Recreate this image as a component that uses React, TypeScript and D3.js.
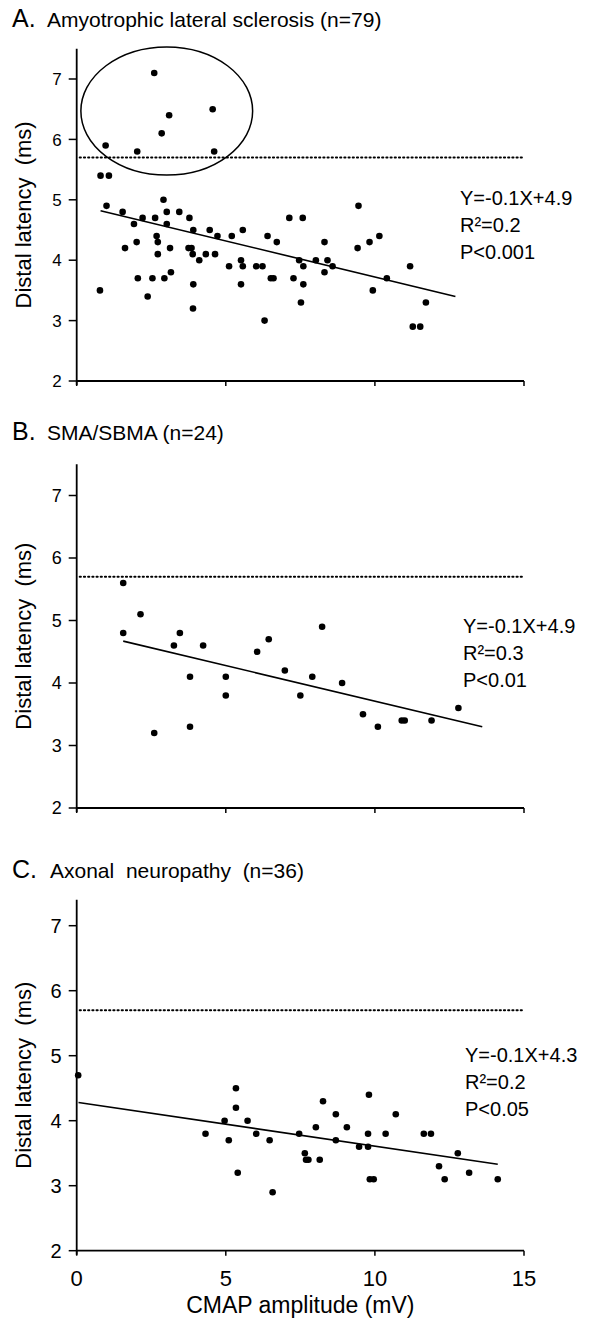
import React from "react";
import * as d3 from "d3";

// ---------- data ----------
const xTicks = [0, 5, 10, 15];
const yTicks = [2, 3, 4, 5, 6, 7];
const cutoff = 5.7;

const alsX = [2.6, 3.1, 4.56, 2.85, 0.97, 2.03, 4.61, 0.8, 1.08,
  1.0, 0.78, 1.54, 1.62, 1.92, 2.01, 2.05, 2.21, 2.38, 2.54, 2.63, 2.68, 2.72, 2.72, 2.91, 2.94, 3.02, 3.02, 3.13, 3.16,
  3.44, 3.78, 3.75, 3.85, 3.89, 3.91, 3.91, 4.11, 4.33, 4.46, 4.64, 4.72, 5.11, 5.2, 5.51, 5.57, 5.57, 5.51, 6.02, 6.23,
  6.4, 6.51, 6.6, 6.71, 7.13, 7.27, 7.46, 7.58, 7.6, 7.6, 8.02, 7.52, 8.31, 8.31, 8.41, 8.58, 9.42, 9.45, 9.82, 9.93,
  10.15, 10.4, 11.18, 11.71, 3.9, 6.3, 11.27, 11.52];
const alsY = [7.1, 6.4, 6.5, 6.1, 5.9, 5.8, 5.8, 5.4, 5.4,
  4.9, 3.5, 4.8, 4.2, 4.6, 4.3, 3.7, 4.7, 3.4, 3.7, 4.7, 4.4, 4.3, 4.1, 5.0, 3.7, 4.8, 4.6, 4.2, 3.8,
  4.8, 4.7, 4.2, 4.2, 4.1, 4.5, 3.6, 4.0, 4.1, 4.5, 4.1, 4.4, 3.9, 4.4, 4.0, 4.5, 3.9, 3.6, 3.9, 3.9,
  4.4, 3.7, 3.7, 4.3, 4.7, 3.7, 4.0, 4.7, 3.9, 3.6, 4.0, 3.3, 4.3, 3.8, 4.0, 3.9, 4.2, 4.9, 4.3, 3.5,
  4.4, 3.7, 3.9, 3.3, 3.2, 3.0, 2.9, 2.9];

const smaX = [1.56, 2.14, 1.56, 3.46, 3.26, 4.24, 6.05, 6.44, 8.23, 6.98,
  2.6, 3.8, 3.8, 5.0, 5.0, 7.5, 7.9, 8.9, 9.6, 10.1, 10.9, 11.0, 11.9, 12.8];
const smaY = [5.6, 5.1, 4.8, 4.8, 4.6, 4.6, 4.5, 4.7, 4.9, 4.2,
  3.2, 4.1, 3.3, 4.1, 3.8, 3.8, 4.1, 4.0, 3.5, 3.3, 3.4, 3.4, 3.4, 3.6];

const axX = [0.05, 4.32, 4.96, 5.1, 5.34, 5.4, 5.73, 6.02, 6.47, 6.57, 7.46, 7.65, 7.69, 7.77, 8.02, 8.15, 8.26, 8.69, 8.69,
  9.06, 9.47, 9.77, 9.77, 9.83, 9.96, 10.36, 10.7, 11.64, 11.88, 12.15, 12.34, 12.78, 13.16, 14.12, 5.34, 9.8];
const axY = [4.7, 3.8, 4.0, 3.7, 4.2, 3.2, 4.0, 3.8, 3.7, 2.9, 3.8, 3.5, 3.4, 3.4, 3.9, 3.4, 4.3, 4.1, 3.7,
  3.9, 3.6, 3.8, 3.6, 3.1, 3.1, 3.8, 4.1, 3.8, 3.8, 3.3, 3.1, 3.5, 3.2, 3.1, 4.5, 4.4];

// regression line end points
const alsFitX = [0.8, 12.7];
const alsFitY = [4.82, 3.4];
const smaFitX = [1.56, 13.6];
const smaFitY = [4.67, 3.3];
const axFitX = [0.06, 14.12];
const axFitY = [4.28, 3.33];

// ellipse around outliers (centre x, centre y, radius x, radius y in data units)
const alsEllipse = [3.02, 6.47, 2.88, 1.06];

const titles = ["Amyotrophic lateral sclerosis (n=79)", "SMA/SBMA (n=24)", "Axonal  neuropathy  (n=36)"];
const letters = ["A.", "B.", "C."];
const eqs = [
  ["Y=-0.1X+4.9", "R²=0.2", "P<0.001"],
  ["Y=-0.1X+4.9", "R²=0.3", "P<0.01"],
  ["Y=-0.1X+4.3", "R²=0.2", "P<0.05"],
];
const yTitle = "Distal latency  (ms)";
const xTitle = "CMAP amplitude (mV)";

// ---------- layout ----------
const W = 606, H = 1319;
const x0 = 76.7, x1 = 524;
const FONT = "'Liberation Sans', Arial, sans-serif";

const panels = [
  { xs: alsX, ys: alsY, fx: alsFitX, fy: alsFitY, yBot: 381, unit: 60.4, yTop: 7.5, titleY: 27, textX: 12, titleX: 47, eqX: 460, eqY: 205, tick: 17, ell: alsEllipse },
  { xs: smaX, ys: smaY, fx: smaFitX, fy: smaFitY, yBot: 808, unit: 62.5, yTop: 7.5, titleY: 440, textX: 12, titleX: 47, eqX: 463, eqY: 633, tick: 18, ell: null },
  { xs: axX, ys: axY, fx: axFitX, fy: axFitY, yBot: 1250.7, unit: 65, yTop: 7.4, titleY: 878, textX: 12, titleX: 50, eqX: 465, eqY: 1062, tick: 20, ell: null },
];

const x = d3.scaleLinear().domain([0, 15]).range([x0, x1]);

function Panel({ p, i }: { p: any; i: number }) {
  const y = d3.scaleLinear().domain([2, p.yTop]).range([p.yBot, p.yBot - (p.yTop - 2) * p.unit]);
  const line = d3.line<[number, number]>().x((d) => x(d[0])).y((d) => y(d[1]));
  const fitPts: [number, number][] = p.fx.map((v: number, k: number) => [v, p.fy[k]]);
  const yMid = y((2 + p.yTop) / 2);
  return (
    <g>
      <text x={p.textX} y={p.titleY} fontSize={25} fontFamily={FONT}>{letters[i]}</text>
      <text x={p.titleX} y={p.titleY} fontSize={21} fontFamily={FONT} style={{ whiteSpace: "pre" }}>{titles[i]}</text>
      {/* y axis */}
      <line x1={x0} x2={x0} y1={y(p.yTop)} y2={y(2) + 4} stroke="#000" strokeWidth={1.8} />
      {yTicks.map((t) => (
        <g key={t}>
          <line x1={x0 - 8} x2={x0} y1={y(t)} y2={y(t)} stroke="#000" strokeWidth={1.5} />
          <text x={x0 - 15} y={y(t)} dy="0.36em" textAnchor="end" fontSize={p.tick} fontFamily={FONT}>{t}</text>
        </g>
      ))}
      <text transform={`translate(31,${yMid}) rotate(-90)`} textAnchor="middle" fontSize={22} fontFamily={FONT} style={{ whiteSpace: "pre" }}>{yTitle}</text>
      {/* x axis */}
      <line x1={x0} x2={x1} y1={y(2)} y2={y(2)} stroke="#000" strokeWidth={1.8} />
      {xTicks.map((t) => (
        <line key={t} x1={x(t)} x2={x(t)} y1={y(2)} y2={y(2) + 5} stroke="#000" strokeWidth={1.5} />
      ))}
      {i === 2 && xTicks.map((t) => (
        <text key={"l" + t} x={x(t)} y={y(2) + 35} textAnchor="middle" fontSize={22} fontFamily={FONT}>{t}</text>
      ))}
      {i === 2 && (
        <text x={(x0 + x1) / 2} y={1313} textAnchor="middle" fontSize={23} fontFamily={FONT}>{xTitle}</text>
      )}
      {/* cutoff */}
      <line x1={x(0) + 3} x2={x(15)} y1={y(cutoff)} y2={y(cutoff)} stroke="#000" strokeWidth={2} strokeDasharray="1.2 3" strokeLinecap="round" />
      {/* ellipse */}
      {p.ell && (
        <ellipse cx={x(p.ell[0])} cy={y(p.ell[1])} rx={x(p.ell[2]) - x(0)} ry={y(2) - y(2 + p.ell[3])} fill="none" stroke="#000" strokeWidth={1.5} />
      )}
      {/* fit */}
      <path d={line(fitPts) || ""} stroke="#000" strokeWidth={1.6} fill="none" />
      {/* points */}
      {p.xs.map((v: number, k: number) => (
        <circle key={k} cx={x(v)} cy={y(p.ys[k])} r={3.3} fill="#000" />
      ))}
      {/* equation */}
      {eqs[i].map((s, k) => (
        <text key={k} x={p.eqX} y={p.eqY + k * 27} fontSize={20} fontFamily={FONT}>{s}</text>
      ))}
    </g>
  );
}

export default function App() {
  return (
    <svg width={W} height={H} viewBox={`0 0 ${W} ${H}`} style={{ position: "absolute", left: 0, top: 0, background: "#fff" }}>
      <rect width={W} height={H} fill="#fff" />
      {panels.map((p, i) => (
        <Panel key={i} p={p} i={i} />
      ))}
    </svg>
  );
}
